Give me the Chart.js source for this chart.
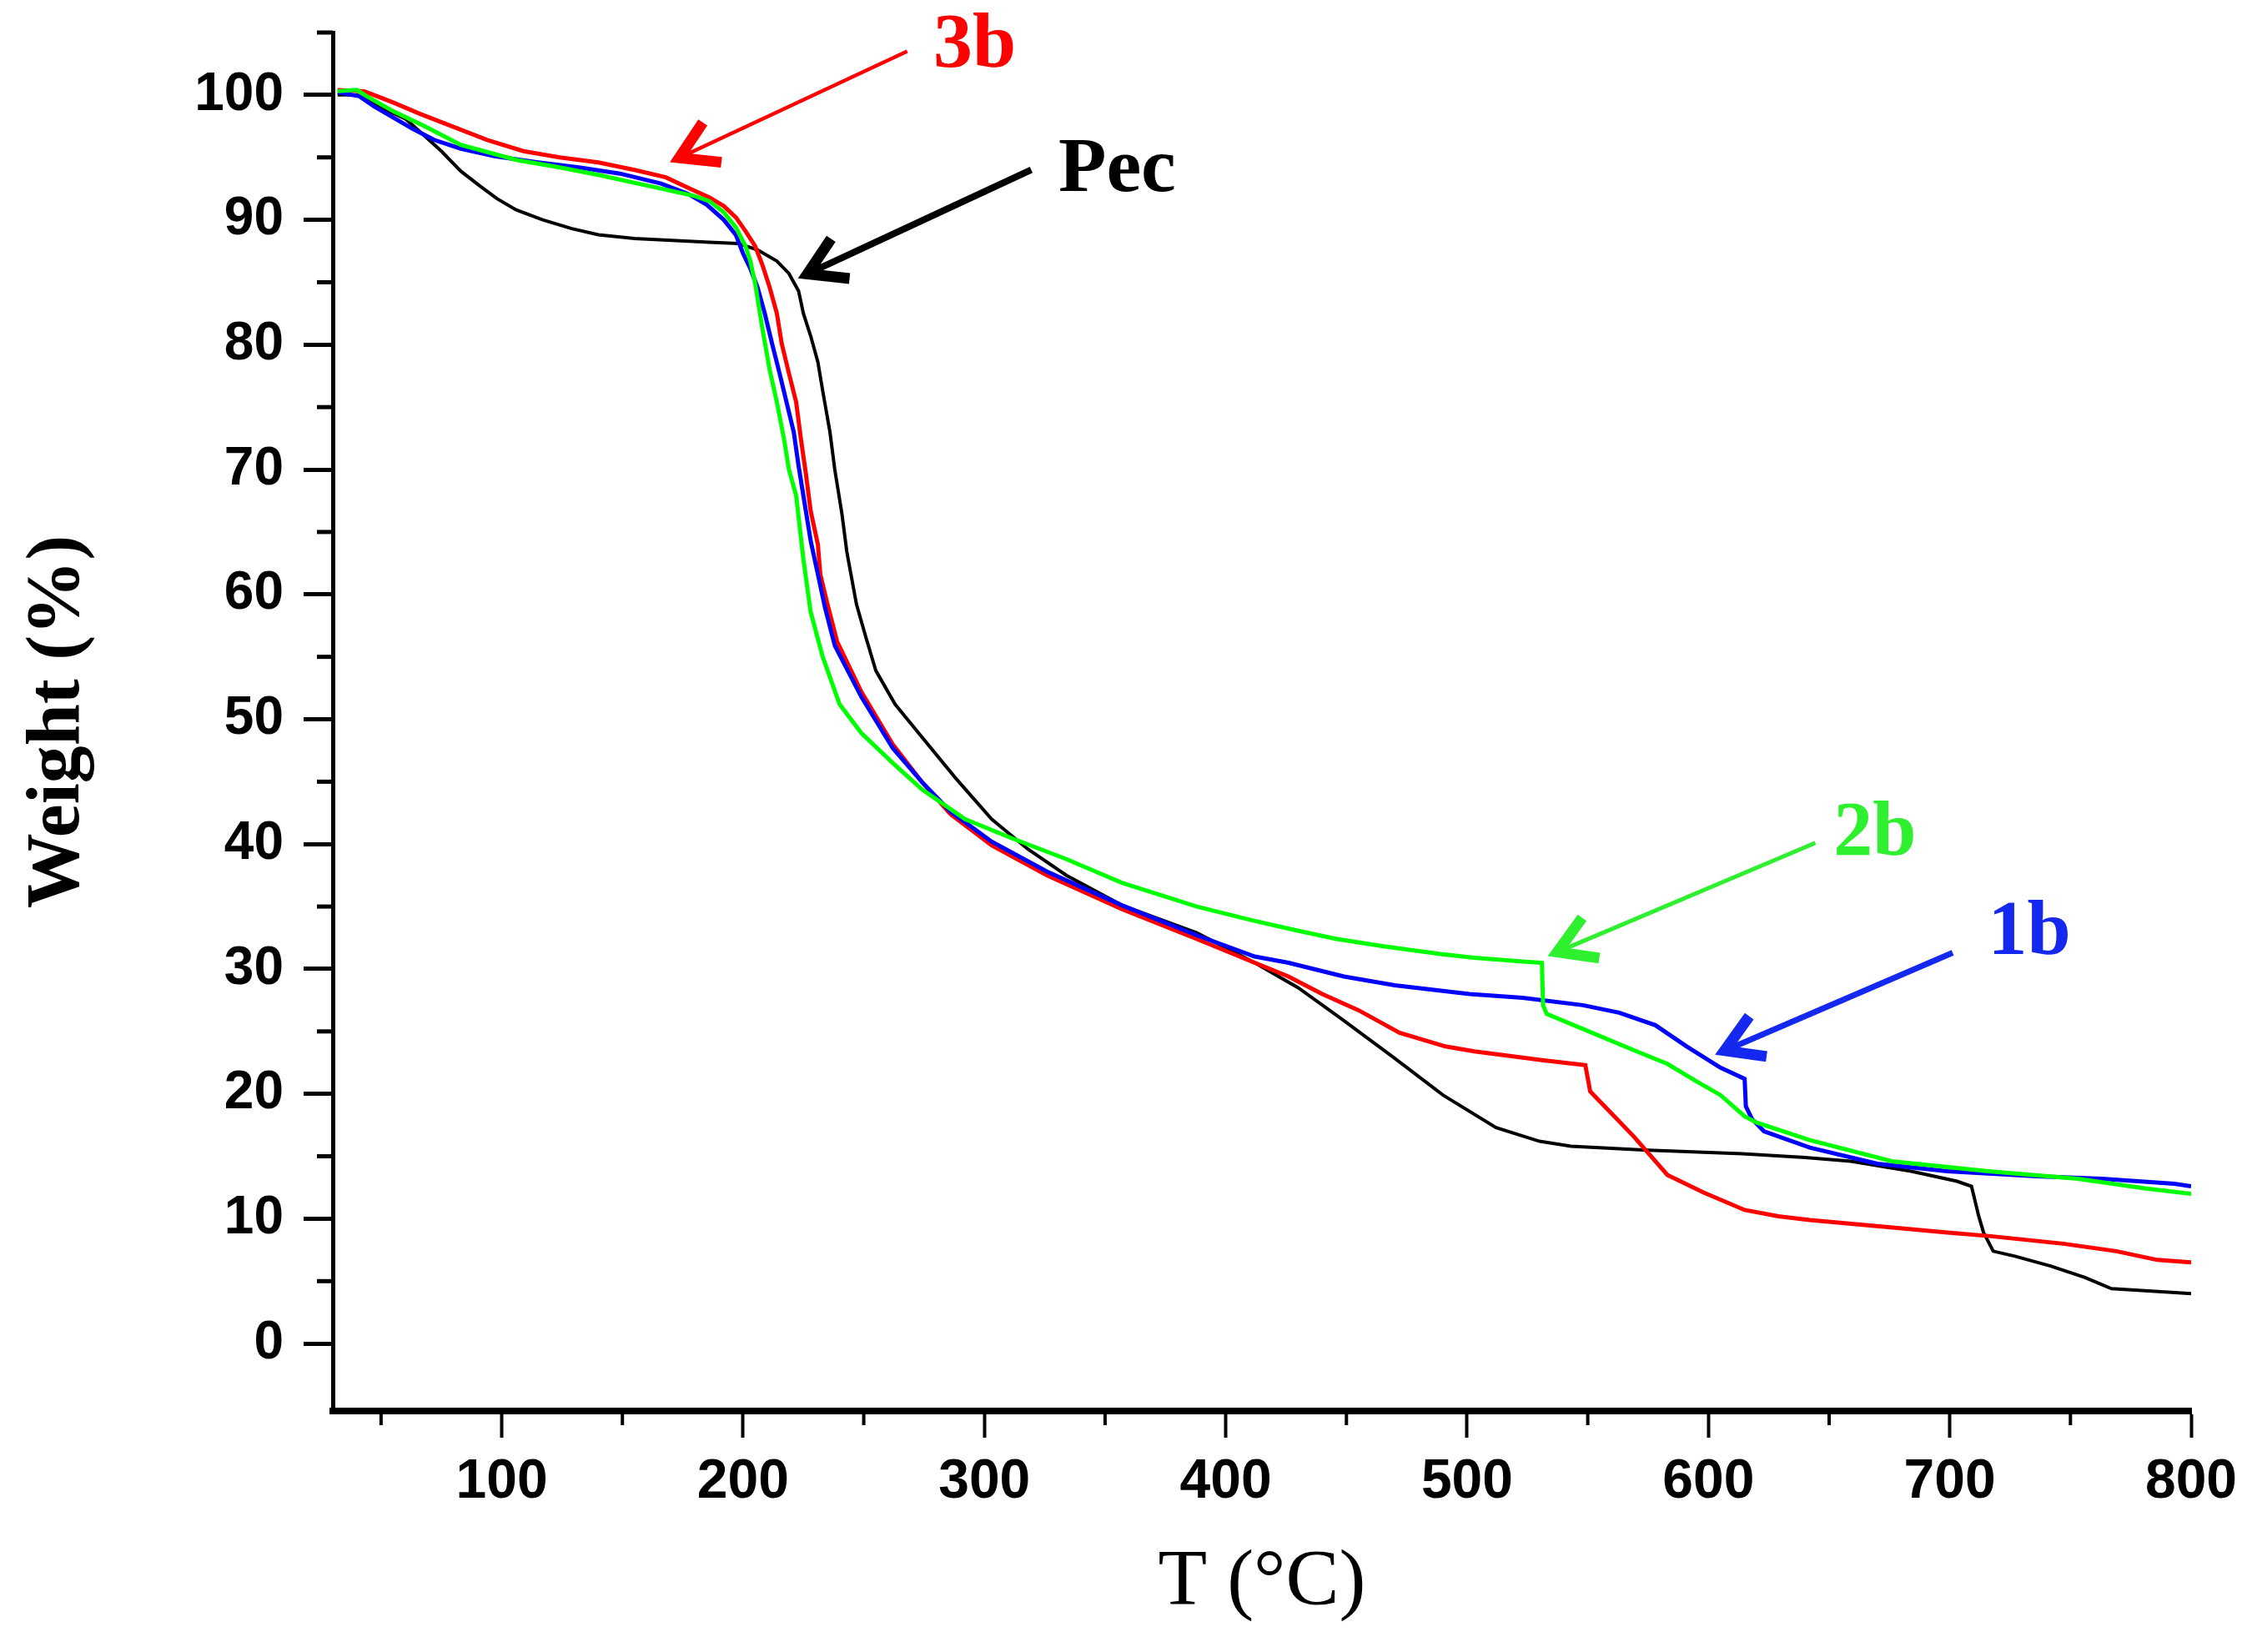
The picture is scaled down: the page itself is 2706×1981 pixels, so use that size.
<!DOCTYPE html>
<html>
<head>
<meta charset="utf-8">
<title>TGA curves</title>
<script src="https://cdn.jsdelivr.net/npm/chart.js@4.4.1/dist/chart.umd.min.js"></script>
<style>
  html, body { margin: 0; padding: 0; background: #fff; }
  canvas { display: block; }
</style>
</head>
<body>
<canvas id="tgaChart" width="2706" height="1981"></canvas>
<script>
// Data: [temperature (°C), weight (%)]
const pec = [[32,100],[40,100],[50,99.0],[60,98.1],[67,96.9],[75,95.5],[83,93.9],[91,92.7],[98,91.7],[106,90.8],[117,90.0],[129,89.3],[140,88.8],[155,88.5],[186,88.2],[198,88.1],[206,87.6],[214,86.7],[219,85.7],[223,84.3],[225,82.5],[228,80.7],[231,78.6],[233,76.3],[236,73.0],[238,70.0],[241,66.4],[243,63.4],[247,59.2],[251,56.5],[255,53.9],[263,51.2],[274,48.6],[288,45.3],[303,42.0],[318,39.6],[334,37.5],[357,35.1],[388,32.9],[412,30.5],[430,28.5],[448,26.0],[469,23.0],[490,19.9],[512,17.3],[530,16.2],[543,15.8],[573,15.5],[614,15.2],[640,14.9],[659,14.6],[684,13.8],[703,13.0],[709,12.6],[712,10.2],[714,8.9],[718,7.4],[727,7.0],[742,6.2],[756,5.3],[767,4.4],[792,4.1],[800,4.0]];

const s3b = [[32,100.4],[43,100.3],[47,100.0],[55,99.4],[66,98.5],[78,97.6],[94,96.4],[109,95.5],[124,95.0],[140,94.6],[155,94.0],[168,93.4],[178,92.5],[186,91.8],[192,91.1],[197,90.2],[201,89.1],[205,87.9],[208,86.4],[211,84.6],[214,82.5],[216,80.1],[219,77.7],[222,75.4],[224,72.4],[226,69.7],[228,66.7],[231,64.0],[232,61.6],[235,59.2],[239,56.2],[249,52.2],[262,48.0],[274,45.0],[286,42.4],[303,39.9],[326,37.5],[357,34.8],[388,32.4],[412,30.5],[426,29.4],[440,28.0],[455,26.7],[472,24.9],[491,23.8],[503,23.4],[531,22.7],[549,22.3],[551,20.2],[569,16.6],[583,13.5],[598,12.1],[615,10.7],[629,10.2],[642,9.9],[682,9.2],[699,8.9],[717,8.6],[747,8.0],[769,7.4],[786,6.7],[800,6.5]];

const s1b = [[32,100.2],[41,99.9],[47,99.1],[55,98.2],[63,97.3],[72,96.4],[83,95.7],[97,95.1],[115,94.6],[132,94.2],[149,93.7],[166,92.9],[177,92.1],[185,91.2],[192,90.0],[197,88.8],[200,87.3],[203,86.1],[206,84.6],[209,82.5],[212,80.1],[215,77.8],[218,75.4],[221,73.0],[223,70.3],[225,67.9],[228,64.3],[231,61.6],[234,58.9],[238,55.9],[249,51.8],[262,47.7],[274,45.0],[286,42.6],[303,40.2],[326,37.8],[357,35.1],[388,32.7],[412,31.0],[426,30.5],[449,29.4],[470,28.7],[501,28.0],[523,27.7],[548,27.1],[563,26.5],[578,25.5],[591,23.8],[605,22.1],[615,21.2],[615.5,19.0],[618,18.0],[623,17.0],[642,15.7],[670,14.4],[699,13.8],[736,13.4],[763,13.2],[793,12.8],[800,12.6]];

const s2b = [[32,100.3],[40,100.4],[44,99.9],[55,98.7],[68,97.5],[83,96.0],[106,94.8],[124,94.2],[140,93.6],[166,92.5],[180,91.9],[186,91.5],[192,90.6],[197,89.4],[201,87.9],[203,86.7],[205,84.9],[208,81.3],[211,78.0],[214,75.4],[217,72.4],[219,70.0],[222,67.9],[225,62.8],[228,58.6],[233,55.0],[240,51.2],[249,48.9],[262,46.5],[274,44.4],[292,42.0],[311,40.5],[334,38.8],[357,36.9],[388,35.0],[411,33.9],[429,33.1],[446,32.4],[466,31.8],[489,31.2],[503,30.9],[523,30.6],[531,30.5],[531.5,27.1],[533,26.4],[548,25.2],[569,23.5],[583,22.4],[595,21.0],[605,19.9],[615,18.2],[620,17.7],[642,16.3],[676,14.6],[716,13.8],[753,13.2],[782,12.4],[800,12.0]];

// Axis ticks
const xMajorTicks = [100, 200, 300, 400, 500, 600, 700, 800];
const xMinorTicks = [50, 150, 250, 350, 450, 550, 650, 750];
const yMajorTicks = [0, 10, 20, 30, 40, 50, 60, 70, 80, 90, 100];
const yMinorTicks = [5, 15, 25, 35, 45, 55, 65, 75, 85, 95, 105];

// Arrow annotations (data coordinates)
const annotations = [
    { text: '3b',  color: '#ff0000', label: [296, 103.9], tail: [268, 103.5],   head: [171.7, 94.8], width: 4.5 },
    { text: 'Pec', color: '#000000', label: [355, 93.9],  tail: [319.4, 94.0],  head: [224.8, 85.5], width: 8 },
    { text: '2b',  color: '#2ff02f', label: [669, 40.8],  tail: [644.3, 40.1],  head: [535.5, 31.2], width: 5 },
    { text: '1b',  color: '#1428f0', label: [733, 32.8],  tail: [701.2, 31.3],  head: [604.8, 23.3], width: 7 }
];

function toXY(points) {
    return points.map(p => ({ x: p[0], y: p[1] }));
}

// Short minor ticks on both axes
const minorTicksPlugin = {
    id: 'minorTicks',
    afterDraw(chart) {
        const ctx = chart.ctx;
        const area = chart.chartArea;
        const xs = chart.scales.x;
        const ys = chart.scales.y;
        ctx.save();
        ctx.strokeStyle = '#000';
        ctx.lineWidth = 4;
        xMinorTicks.forEach(v => {
            const px = xs.getPixelForValue(v);
            ctx.beginPath();
            ctx.moveTo(px, area.bottom);
            ctx.lineTo(px, area.bottom + 17);
            ctx.stroke();
        });
        ctx.lineWidth = 5;
        yMinorTicks.forEach(v => {
            const py = ys.getPixelForValue(v);
            ctx.beginPath();
            ctx.moveTo(area.left, py);
            ctx.lineTo(area.left - 19, py);
            ctx.stroke();
        });
        ctx.restore();
    }
};

// Coloured arrows with labels
const arrowPlugin = {
    id: 'arrows',
    afterDatasetsDraw(chart) {
        const ctx = chart.ctx;
        const xs = chart.scales.x;
        const ys = chart.scales.y;
        ctx.save();
        annotations.forEach(a => {
            const tx = xs.getPixelForValue(a.tail[0]);
            const ty = ys.getPixelForValue(a.tail[1]);
            const hx = xs.getPixelForValue(a.head[0]);
            const hy = ys.getPixelForValue(a.head[1]);
            const ang = Math.atan2(ty - hy, tx - hx);
            const barb = 56;
            const spread = 28 * Math.PI / 180;

            ctx.strokeStyle = a.color;
            ctx.fillStyle = a.color;
            ctx.lineCap = 'butt';
            ctx.lineJoin = 'miter';

            ctx.lineWidth = a.width;
            ctx.beginPath();
            ctx.moveTo(tx, ty);
            ctx.lineTo(hx + Math.cos(ang) * 6, hy + Math.sin(ang) * 6);
            ctx.stroke();

            ctx.lineWidth = 13;
            ctx.beginPath();
            ctx.moveTo(hx + Math.cos(ang - spread) * barb, hy + Math.sin(ang - spread) * barb);
            ctx.lineTo(hx + Math.cos(ang) * 6, hy + Math.sin(ang) * 6);
            ctx.lineTo(hx + Math.cos(ang + spread) * barb, hy + Math.sin(ang + spread) * barb);
            ctx.stroke();

            ctx.font = 'bold 94px "Liberation Serif", "Times New Roman", serif';
            ctx.textAlign = 'center';
            ctx.textBaseline = 'middle';
            ctx.fillText(a.text, xs.getPixelForValue(a.label[0]), ys.getPixelForValue(a.label[1]));
        });
        ctx.restore();
    }
};

function lineDataset(label, points, color, width) {
    return {
        label: label,
        data: toXY(points),
        borderColor: color,
        backgroundColor: color,
        borderWidth: width,
        pointRadius: 0,
        tension: 0,
        fill: false
    };
}

const tickFont = { family: '"Liberation Sans", Arial, sans-serif', weight: 'bold' };

const ctx = document.getElementById('tgaChart').getContext('2d');
const tgaChart = new Chart(ctx, {
    type: 'line',
    data: {
        datasets: [
            lineDataset('2b', s2b, '#00ff00', 5),
            lineDataset('1b', s1b, '#0000ff', 5),
            lineDataset('3b', s3b, '#ff0000', 5),
            lineDataset('Pec', pec, '#000000', 4)
        ]
    },
    options: {
        responsive: false,
        animation: false,
        devicePixelRatio: 1,
        layout: { padding: { left: 0, top: 39, right: 79, bottom: 0 } },
        plugins: {
            legend: { display: false },
            tooltip: { enabled: false }
        },
        scales: {
            x: {
                type: 'linear',
                min: 30,
                max: 800,
                afterBuildTicks: scale => { scale.ticks = xMajorTicks.map(v => ({ value: v })); },
                afterFit: scale => {
                    scale.height = 289;
                    scale.paddingLeft = 0;
                    scale.paddingRight = 0;
                },
                border: { display: true, color: '#000', width: 8 },
                grid: { drawOnChartArea: false, drawTicks: true, tickLength: 32, tickWidth: 4, tickColor: '#000' },
                ticks: { color: '#000', padding: 14, maxRotation: 0, font: { ...tickFont, size: 66 } },
                title: {
                    display: true,
                    text: 'T (°C)',
                    color: '#000',
                    padding: { top: 0, bottom: 25 },
                    font: { family: '"Liberation Serif", "Times New Roman", serif', size: 96, weight: 'normal' }
                }
            },
            y: {
                type: 'linear',
                min: -5.4,
                max: 105,
                afterBuildTicks: scale => { scale.ticks = yMajorTicks.map(v => ({ value: v })); },
                afterFit: scale => {
                    scale.width = 399;
                    scale.paddingTop = 0;
                    scale.paddingBottom = 0;
                },
                border: { display: true, color: '#000', width: 5 },
                grid: { drawOnChartArea: false, drawTicks: true, tickLength: 35, tickWidth: 5, tickColor: '#000' },
                ticks: { color: '#000', padding: 24, font: { ...tickFont, size: 64 } },
                title: {
                    display: true,
                    text: 'Weight (%)',
                    color: '#000',
                    padding: { top: 17, bottom: 0 },
                    font: { family: '"Liberation Serif", "Times New Roman", serif', size: 90, weight: 'bold' }
                }
            }
        }
    },
    plugins: [minorTicksPlugin, arrowPlugin]
});
</script>
</body>
</html>
